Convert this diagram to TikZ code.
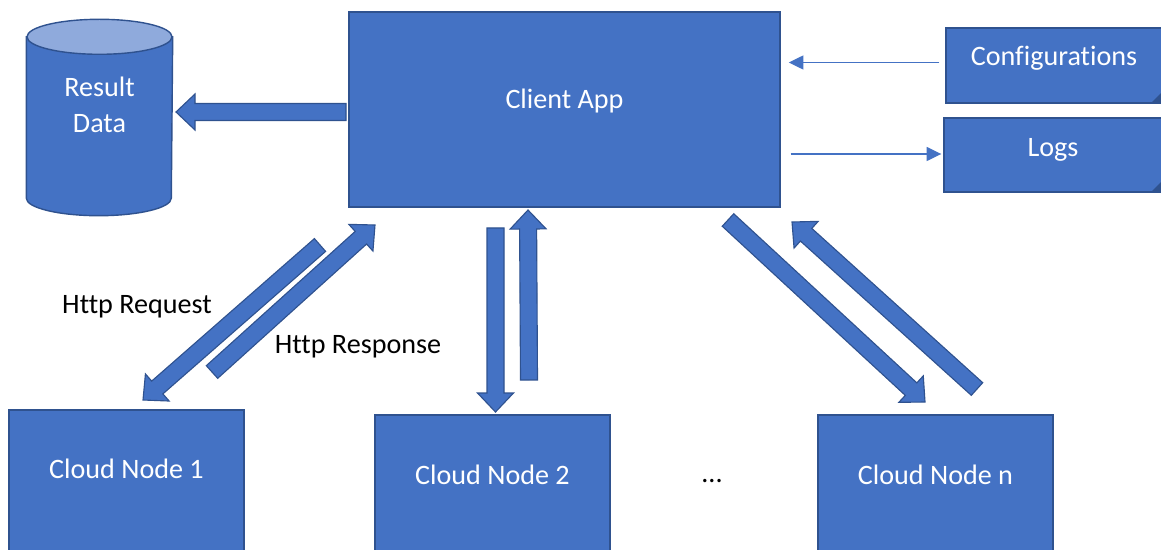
\documentclass[tikz,border=0pt]{standalone}
\usepackage{fontspec}
\setmainfont{Carlito}[Ligatures=NoCommon]
\usetikzlibrary{arrows.meta,positioning,calc,decorations.markings,backgrounds}
\definecolor{boxblue}{HTML}{4472C4}
\definecolor{boxline}{HTML}{2F528F}
\definecolor{dbtop}{HTML}{8FAADC}
\def\pxu{0.025cm}
\tikzset{
  flow/box/.style={draw=boxline, fill=boxblue, line width=1pt, text=white, align=center,
    font=\fontsize{20}{25.6}\selectfont, text depth=#1*\pxu},
  flow/box/.default=6,
  flow/doc/.style={flow/box=#1, path picture={
      \fill[boxline] ($(path picture bounding box.south east)+(-11,0)$) -- (path picture bounding box.south east)
        -- ($(path picture bounding box.south east)+(0,-11)$) -- cycle;}},
  flow/db/.style={flow/box=#1, draw=none, fill=none},
  flow/dbbody/.style={draw=boxline, fill=boxblue, line width=1pt},
  flow/dbtop/.style={draw=boxline, fill=dbtop, line width=1pt},
  flow/note/.style={font=\fontsize{20}{24}\selectfont, text=black, inner sep=0pt},
  flow/thin/.style={draw=boxblue, line width=1pt, -{Triangle[length=10.5pt,width=10pt]}},
  flow/block/.style={postaction={decorate, decoration={markings, mark=at position 0 with {
      \filldraw[fill=boxblue, draw=boxline, line width=0.8pt]
        (0pt,{-8.5*\pxu}) -- ({\pgfdecoratedpathlength-19*\pxu},{-8.5*\pxu})
        -- ({\pgfdecoratedpathlength-19*\pxu},{-18*\pxu}) -- (\pgfdecoratedpathlength,0pt)
        -- ({\pgfdecoratedpathlength-19*\pxu},{18*\pxu}) -- ({\pgfdecoratedpathlength-19*\pxu},{8.5*\pxu})
        -- (0pt,{8.5*\pxu}) -- cycle;}}}}
}

\begin{document}
\begin{tikzpicture}[x=0.025cm, y=-0.025cm]
  \useasboundingbox (0,0) rectangle (1161,550);

  \node[flow/box=21, minimum width=431*\pxu, minimum height=195*\pxu] (client) at (564.5,109.5) {Client App};
  \node[flow/doc=19, minimum width=216*\pxu, minimum height=75*\pxu] (config) at (1054,65.5) {Configurations};
  \node[flow/doc=16, minimum width=218*\pxu, minimum height=74*\pxu] (logs) at (1053,155) {Logs};

  % result store, cylinder drawn behind its node
  \node[flow/db=25, minimum width=145*\pxu, minimum height=195*\pxu] (result) at (99.5,117.5) {Result\\Data};
  \begin{scope}[on background layer]
    \filldraw[flow/dbbody] ($(result.north west)+(0,17.5)$) -- ($(result.south west)+(0,-17.5)$)
      arc[start angle=180, end angle=360, x radius=72.5*\pxu, y radius=17.5*\pxu]
      -- ($(result.north east)+(0,17.5)$) -- cycle;
    \filldraw[flow/dbtop] ($(result.north)+(0,17.5)$) ellipse[x radius=72.5*\pxu, y radius=17.5*\pxu];
  \end{scope}

  \node[flow/box=32, minimum width=235*\pxu, minimum height=150*\pxu] (cloud1) at (126.5,485) {Cloud Node 1};
  \node[flow/box=30, minimum width=235*\pxu, minimum height=150*\pxu] (cloud2) at (492.5,490) {Cloud Node 2};
  \node[flow/box=30, minimum width=235*\pxu, minimum height=150*\pxu] (cloudn) at (935.5,490) {Cloud Node n};
  \node[flow/note] (dots) at (712,481) {...};

  \node[flow/note] (reqlbl) at (137,307) {Http Request};
  \node[flow/note] (resplbl) at (358,347) {Http Response};

  % ends of the block arrows
  \coordinate (savetail) at (346,112);
  \coordinate (savetip) at (176,112);
  \coordinate (req1tail) at (320,245);
  \coordinate (req1tip) at (143,400);
  \coordinate (resp1tail) at (212,372);
  \coordinate (resp1tip) at (375,225);
  \coordinate (req2tail) at (495.5,228);
  \coordinate (req2tip) at (495.5,412);
  \coordinate (resp2tail) at (529,380);
  \coordinate (resp2tip) at (528,210);
  \coordinate (reqntail) at (728,220);
  \coordinate (reqntip) at (925,402);
  \coordinate (respntail) at (977,389);
  \coordinate (respntip) at (792,222);

  \path[flow/block] (savetail) -- (savetip);
  \path[flow/block] (req1tail) -- (req1tip);
  \path[flow/block] (resp1tail) -- (resp1tip);
  \path[flow/block] (req2tail) -- (req2tip);
  \path[flow/block] (resp2tail) -- (resp2tip);
  \path[flow/block] (reqntail) -- (reqntip);
  \path[flow/block] (respntail) -- (respntip);

  \draw[flow/thin] ($(config.west)+(-6,-3)$) -- ($(client.east |- config.west)+(8,-3)$);
  \draw[flow/thin] ($(client.east |- logs.west)+(10,-1)$) -- ($(logs.west)+(-2,-1)$);
\end{tikzpicture}
\end{document}
